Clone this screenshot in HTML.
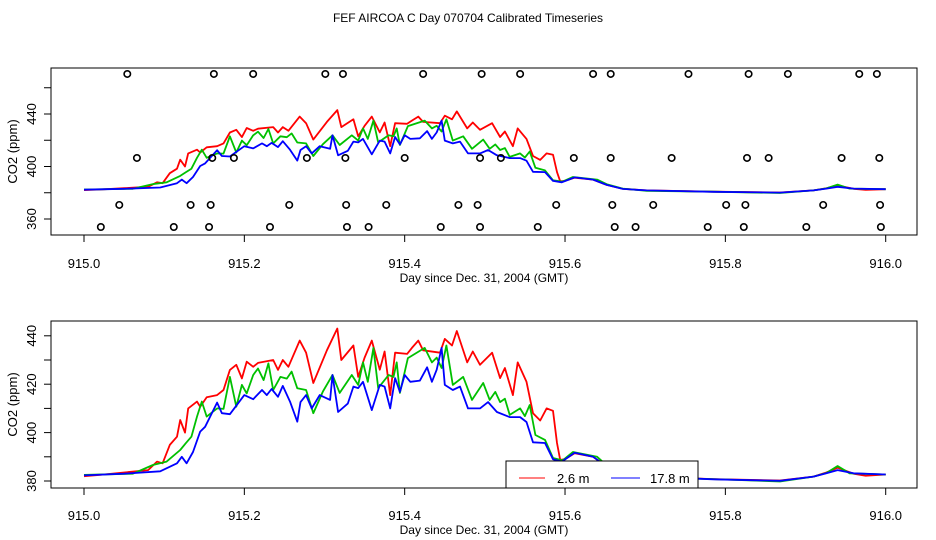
<!DOCTYPE html>
<html><head><meta charset="utf-8"><style>
html,body{margin:0;padding:0;background:#fff}
svg{display:block;font-family:"Liberation Sans",Arial,sans-serif}
</style></head><body>
<svg id="chart" width="936" height="540" viewBox="0 0 936 540" xmlns="http://www.w3.org/2000/svg">
<text x="468" y="22" font-size="12" text-anchor="middle">FEF AIRCOA C  Day 070704  Calibrated Timeseries</text>
</svg>
<script>
const xTicks = [915.0, 915.2, 915.4, 915.6, 915.8, 916.0];
const xTickLabels = ["915.0", "915.2", "915.4", "915.6", "915.8", "916.0"];
const topYTicks = [360, 380, 400, 420, 440, 460];
const topYLabels = ["360", "", "400", "", "440", ""];
const botYTicks = [380, 390, 400, 410, 420, 430, 440];
const botYLabels = ["380", "", "400", "", "420", "", "440"];
const seriesNames = ["2.6 m", "17.8 m"];

const redDays = [0,0.02,0.05,0.08,0.091,0.098,0.107,0.116,0.12,0.126,0.13,0.141,0.145,0.153,0.166,0.174,0.182,0.19,0.197,0.203,0.211,0.217,0.236,0.242,0.248,0.255,0.269,0.277,0.286,0.303,0.316,0.321,0.336,0.342,0.35,0.359,0.369,0.375,0.382,0.388,0.403,0.409,0.417,0.423,0.444,0.45,0.459,0.465,0.478,0.485,0.494,0.509,0.519,0.525,0.535,0.541,0.552,0.56,0.569,0.577,0.585,0.59,0.594,0.6,0.612,0.635,0.652,0.672,0.702,0.785,0.868,0.91,0.926,0.94,0.96,0.975,1.0];
const redVals = [382,382.5,383.5,384.5,388,387.3,394.9,398.3,405.2,400,410,412.8,410.7,414.6,415.5,417.6,425.9,428,422.4,429.3,427.2,428.8,430,425.9,430,427.2,438,433,420.5,434,443,430,436,423,431,438,426,433.5,415.5,433,432.5,435,438,434,433,438.7,436,442,429,433.5,428,433,422.5,426.7,415.5,429,421,408,405,410,409,395.7,388.7,389,391.5,390,386,383,381.8,380.8,380.2,381.8,383.5,385.5,383,382.2,382.7];

const greenDays = [0,0.061,0.086,0.103,0.12,0.127,0.134,0.141,0.147,0.153,0.166,0.174,0.182,0.19,0.197,0.203,0.211,0.217,0.224,0.23,0.236,0.245,0.253,0.259,0.266,0.277,0.286,0.298,0.31,0.319,0.334,0.342,0.348,0.354,0.361,0.367,0.38,0.386,0.39,0.394,0.404,0.425,0.434,0.44,0.446,0.452,0.46,0.473,0.484,0.498,0.506,0.513,0.519,0.525,0.531,0.544,0.55,0.556,0.563,0.575,0.585,0.597,0.61,0.64,0.652,0.672,0.702,0.785,0.868,0.91,0.926,0.94,0.955,1.0];
const greenVals = [382.5,383,386.6,388,392.8,395.6,398.3,406.6,412.8,406.6,410,409.8,423,410.7,419.7,416.2,423.8,426.5,421.7,428.6,417.6,423,422.3,425.2,418.3,417.6,408,417,423.8,416.4,423.8,419.7,429,421,435,418.4,423.8,423,429,416.4,430.8,435,429,431,426.7,436,419.7,423,413.5,420.5,413.5,416.8,412.6,414,407.3,410,406.8,411.4,399,397,389.5,388.5,392,390,386.5,383.2,381.5,380.8,379.8,381.8,383.3,386.2,383.2,382.7];

const blueDays = [0,0.05,0.095,0.116,0.122,0.128,0.136,0.145,0.151,0.166,0.172,0.182,0.2,0.211,0.222,0.228,0.234,0.242,0.248,0.257,0.266,0.27,0.277,0.284,0.294,0.307,0.31,0.317,0.329,0.336,0.342,0.348,0.359,0.369,0.375,0.382,0.388,0.394,0.4,0.407,0.419,0.428,0.434,0.44,0.446,0.45,0.46,0.469,0.479,0.494,0.504,0.515,0.531,0.544,0.552,0.56,0.575,0.585,0.596,0.612,0.635,0.652,0.672,0.702,0.785,0.868,0.91,0.926,0.94,0.96,1.0];
const blueVals = [382.3,383,384,387.3,390,387.3,392,400.4,402.4,412.4,408,407.6,415.5,413.8,417.6,415.5,418,414.8,419.3,412.8,404.5,412.6,415.5,410,415.5,413.5,423.8,408.5,412,419,418.4,421,409.3,419.7,419,410,422.5,416.8,423.8,421,421.5,427,421,426,435,419.7,417.6,419,410,410,412.6,408.5,406.4,406.4,404.4,396,395.7,389,388,391.7,390,386,382.9,381.8,380.7,380.1,381.8,383.2,384.5,383.2,382.7];

const flagDaysA = [0.054,0.162,0.211,0.301,0.323,0.423,0.496,0.544,0.635,0.657,0.754,0.829,0.878,0.967,0.989];
const flagDaysB = [0.066,0.160,0.187,0.278,0.326,0.400,0.494,0.520,0.611,0.657,0.733,0.827,0.854,0.945,0.992];
const flagDaysC = [0.044,0.133,0.158,0.256,0.327,0.377,0.467,0.491,0.589,0.659,0.710,0.801,0.825,0.922,0.993];
const flagDaysD = [0.021,0.112,0.156,0.232,0.328,0.355,0.445,0.494,0.566,0.662,0.688,0.778,0.823,0.901,0.994];
const flagLevels = [470.5, 406.5, 370.7, 353.9];

const NS = "http://www.w3.org/2000/svg";
const svg = document.getElementById("chart");
function mk(tag, attrs, parent) {
  const e = document.createElementNS(NS, tag);
  for (const k in attrs) e.setAttribute(k, attrs[k]);
  (parent || svg).appendChild(e);
  return e;
}
const xScale = d => 84 + (d - 915) * 801.7;
const xRel = d => 84 + d * 801.7;

const panels = [
  {name: "top", top: 68, bottom: 235, y: v => 166.5 - (v - 400) * 1.3125, ticks: topYTicks, labels: topYLabels, tickLblY: 268, xlabY: 282},
  {name: "bottom", top: 321, bottom: 488, y: v => 481 - (v - 380) * 2.42, ticks: botYTicks, labels: botYLabels, tickLblY: 520, xlabY: 534}
];

panels.forEach(p => {
  const g = mk("g", {});
  
  
  const box = mk("rect", {x: 51, y: p.top, width: 866, height: p.bottom - p.top, fill: "none", stroke: "#000", "stroke-width": 1}, g);
  
  
  xTicks.forEach((t, i) => {
    const x = xScale(t);
    const tk = mk("line", {x1: x, x2: x, y1: p.bottom, y2: p.bottom + 7, stroke: "#000"}, g);
    
    
    const tl = mk("text", {x: x, y: p.tickLblY, "font-size": 13, "text-anchor": "middle"}, g);
    tl.textContent = xTickLabels[i];
    
    
  });
  const xl = mk("text", {x: 484, y: p.xlabY, "font-size": 12, "text-anchor": "middle"}, g);
  xl.textContent = "Day since Dec. 31, 2004 (GMT)";
  
  
  p.ticks.forEach((v, i) => {
    const y = p.y(v);
    const tk = mk("line", {x1: 44, x2: 51, y1: y, y2: y, stroke: "#000"}, g);
    
    
    if (p.labels[i]) {
      const tl = mk("text", {x: 0, y: 0, "font-size": 13, "text-anchor": "middle", transform: "translate(36," + y + ") rotate(-90)"}, g);
      tl.textContent = p.labels[i];
      
      
    }
  });
  const yl = mk("text", {x: 0, y: 0, "font-size": 13, "text-anchor": "middle", transform: "translate(17," + ((p.top + p.bottom) / 2) + ") rotate(-90)"}, g);
  yl.textContent = "CO2 (ppm)";
  
  
  p.g = g;
});

// legend (drawn before lines, as in reference)
const lg = mk("g", {});


mk("rect", {x: 506, y: 461, width: 192, height: 27, fill: "#fff", stroke: "#000"}, lg);
mk("line", {x1: 519, x2: 545, y1: 478, y2: 478, stroke: "#f00", "stroke-width": 1}, lg);
const lt1 = mk("text", {x: 557, y: 483, "font-size": 13}, lg);
lt1.textContent = seriesNames[0];


mk("line", {x1: 611, x2: 640, y1: 478, y2: 478, stroke: "#00f", "stroke-width": 1}, lg);
const lt2 = mk("text", {x: 650, y: 483, "font-size": 13}, lg);
lt2.textContent = seriesNames[1];



const series = [
  {n: "red", d: redDays, v: redVals, c: "#ff0000"},
  {n: "green", d: greenDays, v: greenVals, c: "#00c000"},
  {n: "blue", d: blueDays, v: blueVals, c: "#0000ff"}
];
panels.forEach(p => {
  series.forEach(s => {
    const pts = s.d.map((d, i) => xRel(d).toFixed(1) + "," + p.y(s.v[i]).toFixed(1)).join(" ");
    const pl = mk("polyline", {points: pts, fill: "none", stroke: s.c, "stroke-width": 1.8, "stroke-linejoin": "round"}, p.g);
    
    
  });
});

// flag circles on top panel
[flagDaysA, flagDaysB, flagDaysC, flagDaysD].forEach((arr, k) => {
  arr.forEach(d => {
    const c = mk("circle", {cx: xRel(d), cy: panels[0].y(flagLevels[k]), r: 3.2, fill: "none", stroke: "#000", "stroke-width": 1.6}, panels[0].g);
    
    
  });
});
</script>
</body></html>
